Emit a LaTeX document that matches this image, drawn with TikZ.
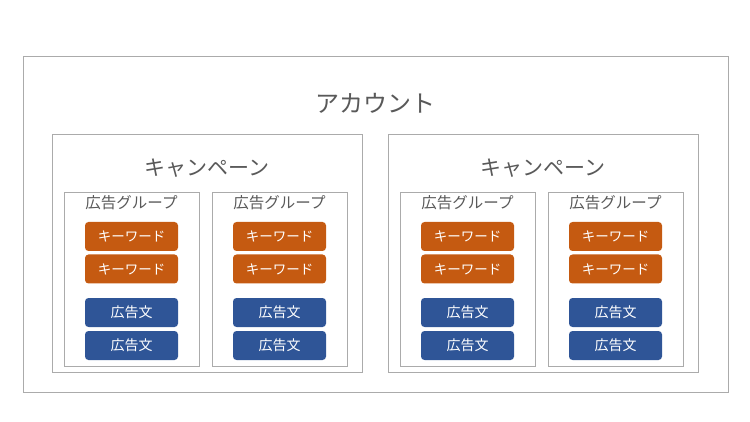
\documentclass[tikz,border=0pt]{standalone}
\usepackage{fontspec}
\setmainfont{Noto Sans CJK JP}
\usepackage{tikz}
\usetikzlibrary{positioning}
\definecolor{framegray}{HTML}{ABABAB}
\definecolor{titlegray}{HTML}{595959}
\definecolor{kworange}{HTML}{C55A11}
\definecolor{adblue}{HTML}{2F5597}

\begin{document}
\begin{tikzpicture}[x=1pt,y=-1pt,
  frame/.style={draw=framegray, line width=0.8pt, inner sep=0pt},
  title/.style={text=titlegray, inner sep=0pt},
  keyword/.style={fill=kworange, rounded corners=3.5pt, inner sep=0pt,
    minimum width=93pt, minimum height=29pt, text=white,
    font=\fontsize{13.5}{14}\selectfont},
  adtext/.style={keyword, fill=adblue, font=\fontsize{14}{15}\selectfont}]
  \useasboundingbox (0,0) rectangle (750,422);
  % account
  \node[frame, minimum width=705pt, minimum height=336pt] (account) at (375.5,224) {};
  \node[title, font=\fontsize{24}{25}\selectfont] (accounttitle) at (375,103) {アカウント};
  % campaigns
  \foreach \c/\cx in {1/207, 2/543}{
    \node[frame, minimum width=310pt, minimum height=238pt] (camp\c) at (\cx,253.5) {};
    \node[title, font=\fontsize{21}{22}\selectfont] (camptitle\c) at (\cx,168) {キャンペーン};
    % ad groups
    \foreach \g/\gx in {1/-75.5, 2/72.5}{
      \node[frame, minimum width=135pt, minimum height=174pt] (group\c\g) at (\cx+\gx,279.5) {};
      \node[title, font=\fontsize{15.5}{16}\selectfont] (grouptitle\c\g) at (\cx+\gx,203) {広告グループ};
      \node[keyword] (kw\c\g a) at (\cx+\gx,236.5) {キーワード};
      \node[keyword] (kw\c\g b) at (\cx+\gx,269) {キーワード};
      \node[adtext] (ad\c\g a) at (\cx+\gx,312.5) {広告文};
      \node[adtext] (ad\c\g b) at (\cx+\gx,345.5) {広告文};
    }
  }
\end{tikzpicture}
\end{document}
